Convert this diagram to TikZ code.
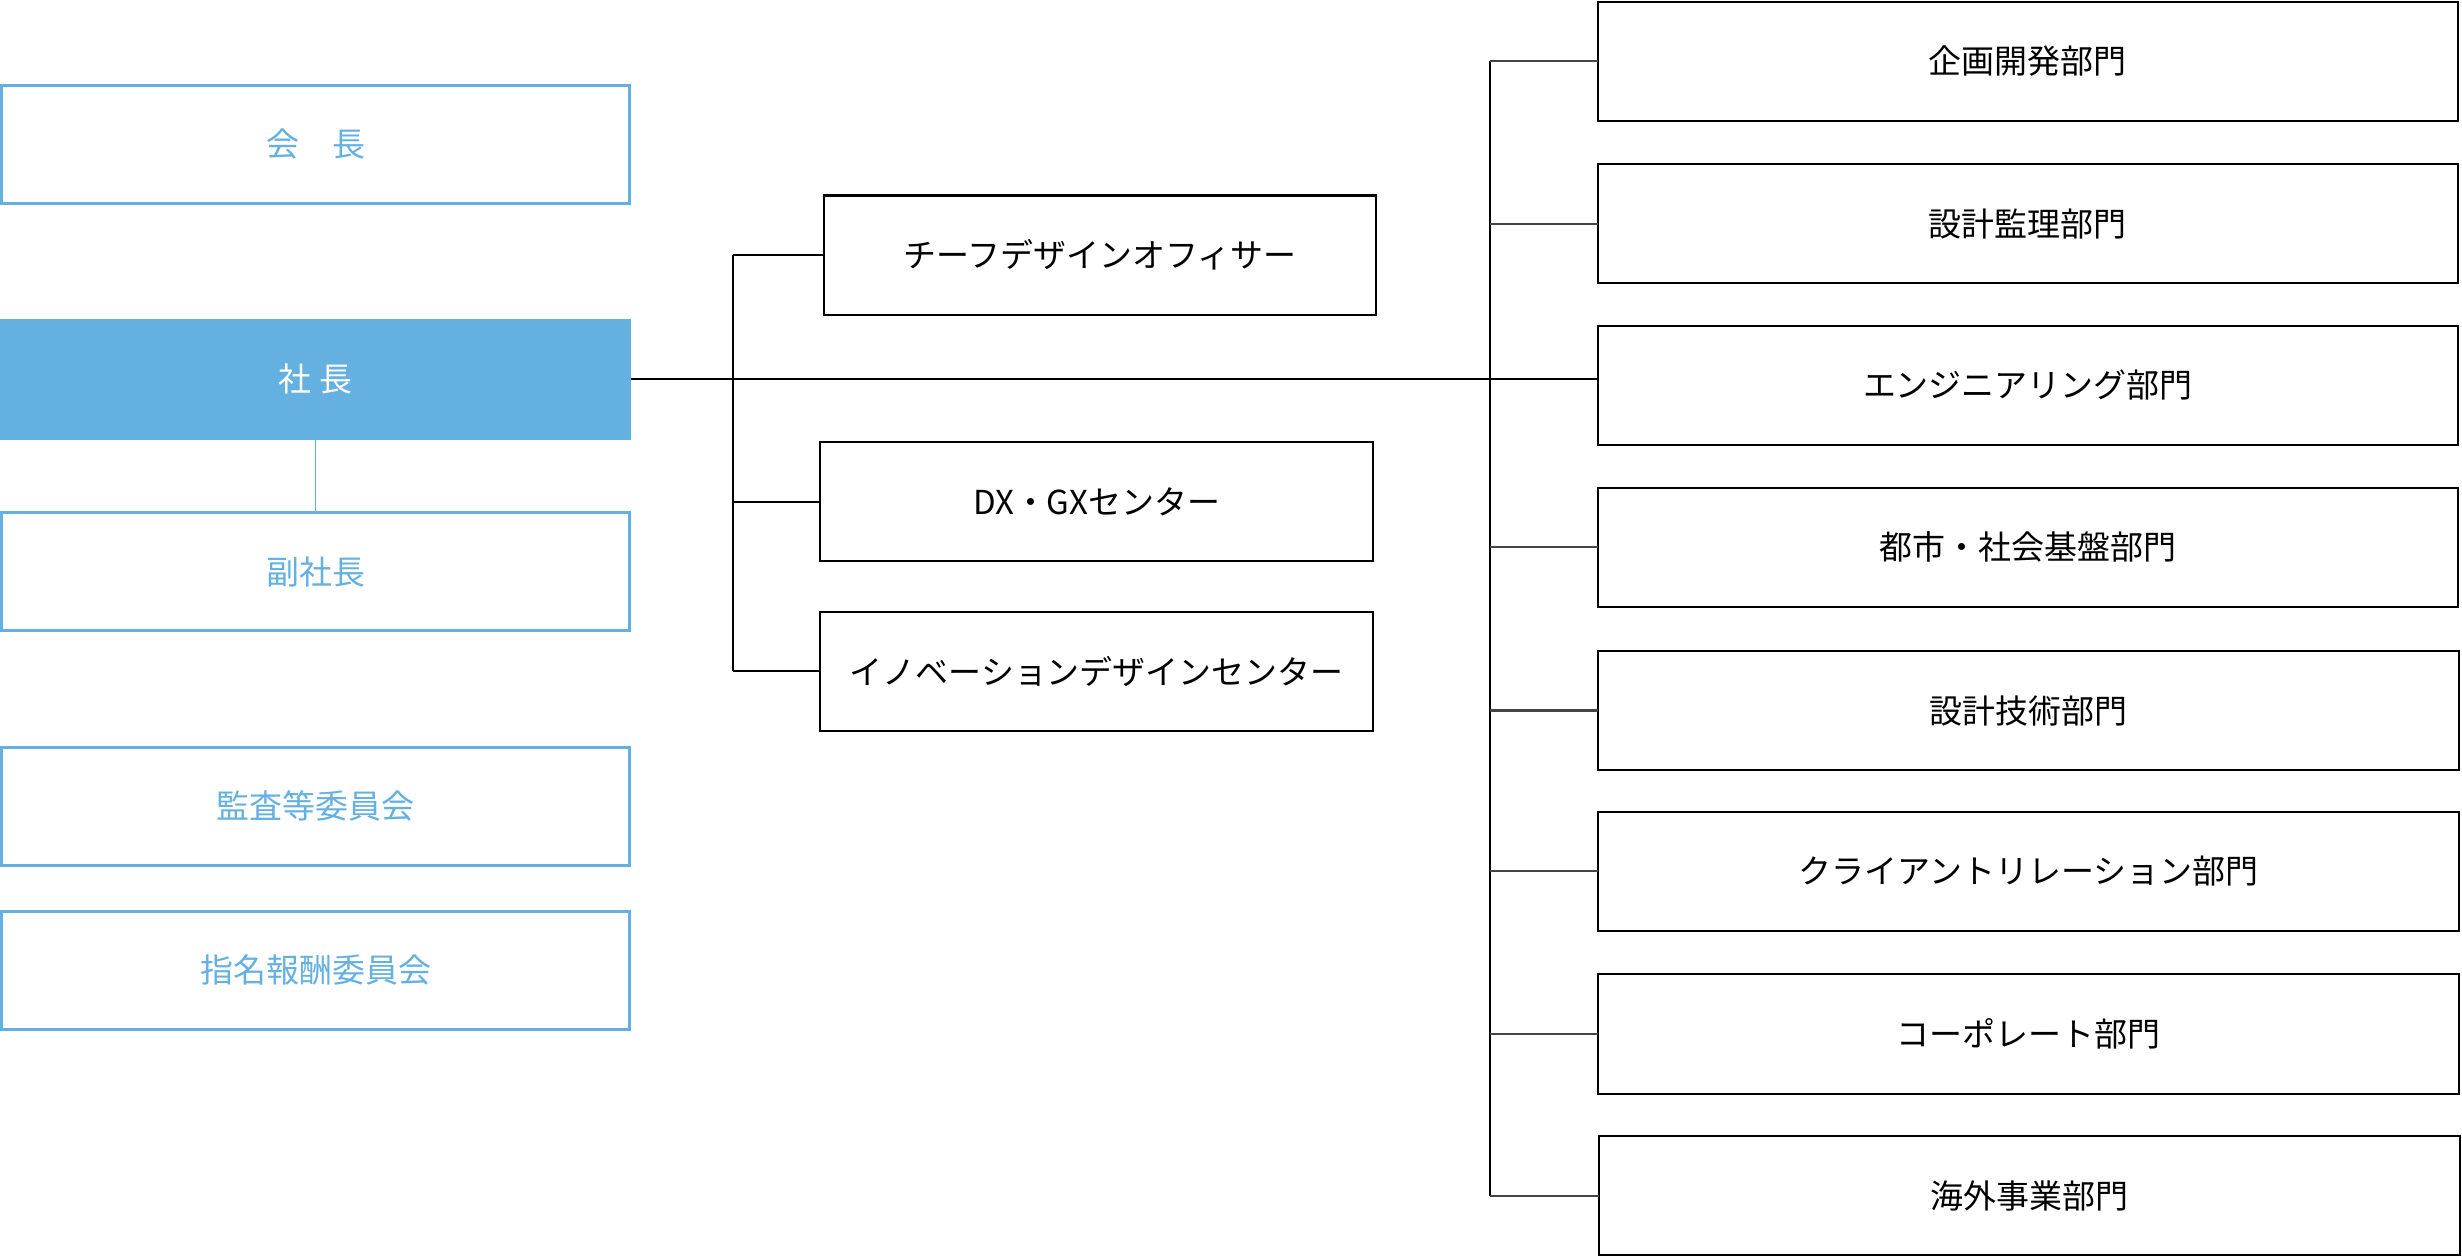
\documentclass[tikz,border=0pt]{standalone}
\usepackage{fontspec}
\setmainfont{Noto Sans CJK JP}
\usepackage{tikz}
\usetikzlibrary{positioning}

\definecolor{skyblue}{RGB}{99,176,225}
\definecolor{branchgray}{RGB}{68,68,68}

\begin{document}
\begin{tikzpicture}[x=1pt,y=1pt,yscale=-1,xscale=1,
  every node/.style={font=\fontsize{21}{25}\selectfont, inner sep=0pt, outer sep=0pt},
  bluebox/.style={draw=skyblue, line width=2pt, text=skyblue, minimum width=400pt, minimum height=75pt},
  bluefill/.style={fill=skyblue, text=white, minimum width=402pt, minimum height=77pt},
  unitbox/.style={draw, line width=1.3pt, minimum width=352pt, minimum height=76pt},
  deptbox/.style={draw, line width=1.3pt, minimum width=548pt, minimum height=76pt},
  thinline/.style={line width=1.3pt},
  grayline/.style={draw=branchgray, line width=1.3pt}]
%set diagram left start at 0, and has height of 800.5
\useasboundingbox (0,0) rectangle (1568,800.5);

%Shape: Rectangle [left column]
\node [bluebox] (kaicho) at (201,92) {会　長};
\node [bluefill] (shacho) at (201,241.5) {社 長};
\node [bluebox] (fukushacho) at (201,364) {副社長};
\node [bluebox] (kansa) at (201,513.5) {監査等委員会};
\node [bluebox] (shimei) at (201,618) {指名報酬委員会};

%Shape: Rectangle [middle column]
\node [unitbox] (cdo) at (700.5,162.5) {チーフデザインオフィサー};
\node [unitbox] (dxgx) at (698.5,319.5) {DX・GXセンター};
\node [unitbox] (inno) at (698.5,427.5) {イノベーションデザインセンター};

%Shape: Rectangle [right column]
\node [deptbox] (kikaku) at (1291.5,39) {企画開発部門};
\node [deptbox] (kanri) at (1291.5,142.5) {設計監理部門};
\node [deptbox] (eng) at (1291.5,245.5) {エンジニアリング部門};
\node [deptbox] (toshi) at (1291.5,348.5) {都市・社会基盤部門};
\node [deptbox] (gijutsu) at (1292,452.5) {設計技術部門};
\node [deptbox] (client) at (1292,555) {クライアントリレーション部門};
\node [deptbox] (corp) at (1292,658.5) {コーポレート部門};
\node [deptbox] (kaigai) at (1292.5,761.5) {海外事業部門};

%Straight Lines
\coordinate (lspine) at (467,0);
\coordinate (rspine) at (949,0);
\draw [skyblue, line width=1pt] (shacho.south) -- (fukushacho.north);
\draw [thinline] (shacho.east) -- (shacho.east -| eng.west);
\draw [thinline] (cdo.west -| lspine) -- (inno.west -| lspine);
\foreach \unit in {cdo,dxgx,inno}
  \draw [thinline] (\unit.west -| lspine) -- (\unit.west);
\draw [thinline] (kikaku.west -| rspine) -- (kaigai.west -| rspine);
\foreach \dept in {kikaku,kanri,toshi,gijutsu,client,corp,kaigai}
  \draw [grayline] (\dept.west -| rspine) -- (\dept.west);

\end{tikzpicture}
\end{document}
